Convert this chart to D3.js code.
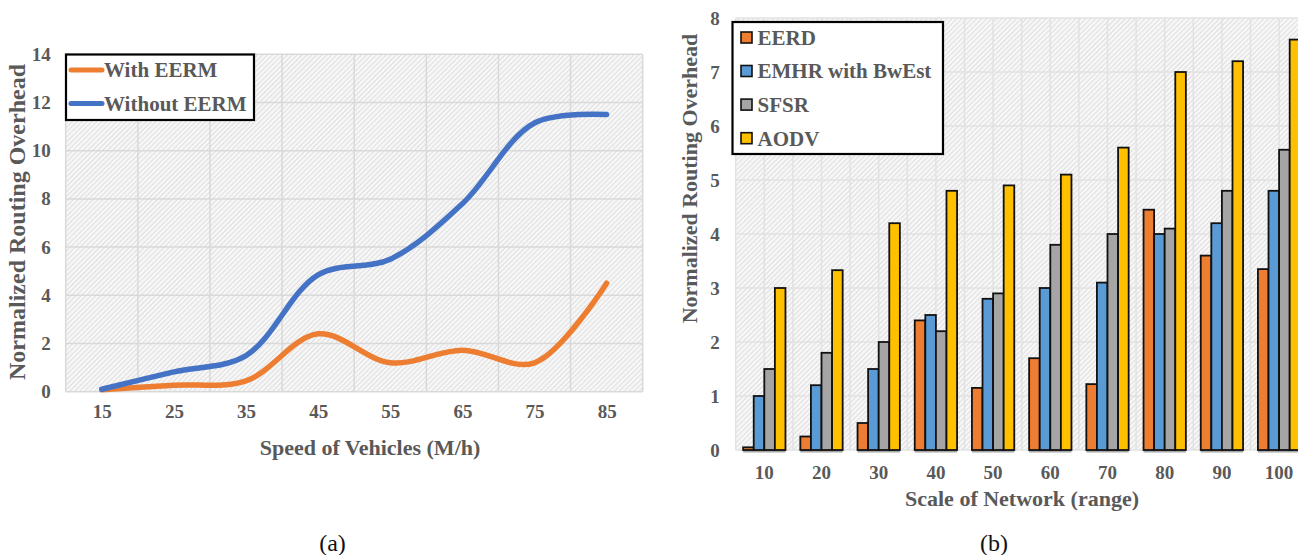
<!DOCTYPE html>
<html>
<head>
<meta charset="utf-8">
<script src="https://cdn.jsdelivr.net/npm/d3@7"></script>
<style>
  html, body { margin: 0; padding: 0; background: #ffffff; }
  svg { display: block; }
  text { font-family: "Liberation Serif", "Times New Roman", serif; }
</style>
</head>
<body>
<svg id="fig" width="1298" height="555"></svg>
<script>
// ---- (a) routing overhead vs. vehicle speed ----
const speeds = ["15", "25", "35", "45", "55", "65", "75", "85"];
const withEERM = [0.08, 0.27, 0.45, 2.4, 1.2, 1.72, 1.2, 4.5];
const withoutEERM = [0.1, 0.82, 1.5, 4.85, 5.5, 7.8, 11.15, 11.5];
const yTicksA = [0, 2, 4, 6, 8, 10, 12, 14];

// ---- (b) routing overhead vs. network scale ----
const scales = ["10", "20", "30", "40", "50", "60", "70", "80", "90", "100"];
const protocols = ["EERD", "EMHR with BwEst", "SFSR", "AODV"];
const eerd = [0.05, 0.25, 0.5, 2.4, 1.15, 1.7, 1.22, 4.45, 3.6, 3.35];
const emhr = [1.0, 1.2, 1.5, 2.5, 2.8, 3.0, 3.1, 4.0, 4.2, 4.8];
const sfsr = [1.5, 1.8, 2.0, 2.2, 2.9, 3.8, 4.0, 4.1, 4.8, 5.56];
const aodv = [3.0, 3.33, 4.2, 4.8, 4.9, 5.1, 5.6, 7.0, 7.2, 7.6];
const yTicksB = [0, 1, 2, 3, 4, 5, 6, 7, 8];

const TEXT = "#595959";
const GRID = "#d9d9d9";
const ORANGE = "#ED7D31";
const LINE_BLUE = "#4472C4";
const BAR_COLORS = ["#ED7D31", "#5B9BD5", "#A5A5A5", "#FFC000"];

const svg = d3.select("#fig");

// downward diagonal hatch used as plot background
const defs = svg.append("defs");
const pat = defs.append("pattern")
  .attr("id", "hatch")
  .attr("patternUnits", "userSpaceOnUse")
  .attr("width", 3.5).attr("height", 3.5)
  .attr("patternTransform", "rotate(45)");
pat.append("rect").attr("width", 3.5).attr("height", 3.5).attr("fill", "#f6f6f6");
pat.append("line").attr("x1", 0).attr("y1", 0).attr("x2", 0).attr("y2", 3.5)
  .attr("stroke", "#d2d2d2").attr("stroke-width", 1.2);

// ================= Chart (a) =================
{
  const L = 65.7, R = 642.7, T = 54.3, B = 391.7;
  const x = d3.scalePoint().domain(speeds).range([L, R]).padding(0.5);
  const y = d3.scaleLinear().domain([0, 14]).range([B, T]);
  const step = x.step();
  const g = svg.append("g");

  g.append("rect").attr("x", L).attr("y", T).attr("width", R - L).attr("height", B - T)
    .attr("fill", "url(#hatch)");

  // horizontal grid
  g.append("g").selectAll("line").data(yTicksA).join("line")
    .attr("x1", L).attr("x2", R)
    .attr("y1", d => y(d)).attr("y2", d => y(d))
    .attr("stroke", GRID).attr("stroke-width", 1.5);
  // vertical grid on category boundaries
  const bounds = d3.range(speeds.length + 1).map(i => L + i * step);
  g.append("g").selectAll("line").data(bounds).join("line")
    .attr("x1", d => d).attr("x2", d => d)
    .attr("y1", T).attr("y2", B)
    .attr("stroke", GRID).attr("stroke-width", 1.5);

  // y axis labels
  const ya = g.append("g").attr("transform", `translate(${L - 15},0)`)
    .call(d3.axisLeft(y).tickValues(yTicksA).tickSize(0).tickPadding(0));
  ya.select(".domain").remove();
  ya.selectAll("text").attr("fill", TEXT).attr("font-size", 19).attr("font-weight", "bold")
    .attr("font-family", "Liberation Serif, serif");

  // x axis labels
  const xa = g.append("g").attr("transform", `translate(0,${B + 13})`)
    .call(d3.axisBottom(x).tickSize(0).tickPadding(0));
  xa.select(".domain").remove();
  xa.selectAll("text").attr("fill", TEXT).attr("font-size", 19).attr("font-weight", "bold")
    .attr("font-family", "Liberation Serif, serif");

  const line = d3.line()
    .x((d, i) => x(speeds[i]))
    .y(d => y(d))
    .curve(d3.curveCatmullRom.alpha(0.5));

  g.append("path").datum(withEERM).attr("d", line)
    .attr("fill", "none").attr("stroke", ORANGE).attr("stroke-width", 5.5)
    .attr("stroke-linecap", "round").attr("stroke-linejoin", "round");
  g.append("path").datum(withoutEERM).attr("d", line)
    .attr("fill", "none").attr("stroke", LINE_BLUE).attr("stroke-width", 5.5)
    .attr("stroke-linecap", "round").attr("stroke-linejoin", "round");

  // legend
  const lg = g.append("g");
  lg.append("rect").attr("x", 66).attr("y", 54.5).attr("width", 188).attr("height", 65.5)
    .attr("fill", "#ffffff").attr("stroke", "#000000").attr("stroke-width", 2.2);
  const items = [["With EERM", ORANGE, 70], ["Without EERM", LINE_BLUE, 103.5]];
  items.forEach(([name, col, cy]) => {
    lg.append("line").attr("x1", 71).attr("x2", 102).attr("y1", cy).attr("y2", cy)
      .attr("stroke", col).attr("stroke-width", 5).attr("stroke-linecap", "round");
    lg.append("text").attr("x", 104).attr("y", cy).attr("dy", "0.35em")
      .attr("fill", TEXT).attr("font-size", 21).attr("font-weight", "bold")
      .text(name);
  });

  // axis titles
  g.append("text").attr("x", 370).attr("y", 447).attr("dy", "0.35em")
    .attr("text-anchor", "middle").attr("fill", TEXT)
    .attr("font-size", 22).attr("font-weight", "bold")
    .text("Speed of Vehicles (M/h)");
  g.append("text").attr("transform", "translate(17,222) rotate(-90)")
    .attr("dy", "0.35em").attr("text-anchor", "middle").attr("fill", TEXT)
    .attr("font-size", 24).attr("font-weight", "bold")
    .text("Normalized Routing Overhead");

  g.append("text").attr("x", 332.5).attr("y", 543).attr("dy", "0.35em")
    .attr("text-anchor", "middle").attr("fill", "#111111").attr("font-size", 24)
    .text("(a)");
}

// ================= Chart (b) =================
{
  const L = 735.7, R = 1307.7, T = 18, B = 450;
  const x0 = d3.scaleBand().domain(scales).range([L, R]).paddingInner(0.26).paddingOuter(0.13);
  const x1 = d3.scaleBand().domain(protocols).range([0, x0.bandwidth()]);
  const y = d3.scaleLinear().domain([0, 8]).range([B, T]);
  const step = x0.step();
  const g = svg.append("g");

  g.append("rect").attr("x", L).attr("y", T).attr("width", R - L).attr("height", B - T)
    .attr("fill", "url(#hatch)");

  g.append("g").selectAll("line").data(yTicksB).join("line")
    .attr("x1", L).attr("x2", R)
    .attr("y1", d => y(d)).attr("y2", d => y(d))
    .attr("stroke", "#e2e2e2").attr("stroke-width", 1.5);
  const vlines = d3.range(scales.length * 2 + 1).map(i => L + i * step / 2);
  g.append("g").selectAll("line").data(vlines).join("line")
    .attr("x1", d => d).attr("x2", d => d)
    .attr("y1", T).attr("y2", B)
    .attr("stroke", "#e2e2e2").attr("stroke-width", 1.5);

  const ya = g.append("g").attr("transform", `translate(${L - 16},0)`)
    .call(d3.axisLeft(y).tickValues(yTicksB).tickSize(0).tickPadding(0));
  ya.select(".domain").remove();
  ya.selectAll("text").attr("fill", TEXT).attr("font-size", 19).attr("font-weight", "bold")
    .attr("font-family", "Liberation Serif, serif");

  const xa = g.append("g").attr("transform", `translate(0,${B + 15})`)
    .call(d3.axisBottom(x0).tickSize(0).tickPadding(0));
  xa.select(".domain").remove();
  xa.selectAll("text").attr("fill", TEXT).attr("font-size", 19).attr("font-weight", "bold")
    .attr("font-family", "Liberation Serif, serif");

  const series = [eerd, emhr, sfsr, aodv];
  const rows = scales.map((s, i) => ({ s, vals: protocols.map((p, k) => ({ p, k, v: series[k][i] })) }));

  const grp = g.append("g").selectAll("g").data(rows).join("g")
    .attr("transform", d => `translate(${x0(d.s)},0)`);

  // axis segment beneath each group
  grp.append("line")
    .attr("x1", 0).attr("x2", x0.bandwidth())
    .attr("y1", B + 1).attr("y2", B + 1)
    .attr("stroke", "#a6a6a6").attr("stroke-width", 3);

  grp.selectAll("rect").data(d => d.vals).join("rect")
    .attr("x", d => x1(d.p))
    .attr("y", d => y(d.v))
    .attr("width", x1.bandwidth())
    .attr("height", d => y(0) - y(d.v))
    .attr("fill", d => BAR_COLORS[d.k])
    .attr("stroke", "#111111").attr("stroke-width", 1.8);

  // legend
  const lg = g.append("g");
  lg.append("rect").attr("x", 732.5).attr("y", 22).attr("width", 210.5).attr("height", 132)
    .attr("fill", "#ffffff").attr("stroke", "#000000").attr("stroke-width", 2.2);
  const ys = [37.5, 71, 104.6, 138.2];
  protocols.forEach((p, k) => {
    lg.append("rect").attr("x", 741).attr("y", ys[k] - 5.5).attr("width", 11).attr("height", 11)
      .attr("fill", BAR_COLORS[k]).attr("stroke", "#111111").attr("stroke-width", 1.6);
    lg.append("text").attr("x", 757.5).attr("y", ys[k]).attr("dy", "0.35em")
      .attr("fill", TEXT).attr("font-size", 21).attr("font-weight", "bold")
      .text(p);
  });

  g.append("text").attr("x", 1022).attr("y", 498).attr("dy", "0.35em")
    .attr("text-anchor", "middle").attr("fill", TEXT)
    .attr("font-size", 22).attr("font-weight", "bold")
    .text("Scale of Network (range)");
  g.append("text").attr("transform", "translate(689,178.5) rotate(-90)")
    .attr("dy", "0.35em").attr("text-anchor", "middle").attr("fill", TEXT)
    .attr("font-size", 22).attr("font-weight", "bold")
    .text("Normalized Routing Overhead");

  g.append("text").attr("x", 994).attr("y", 543).attr("dy", "0.35em")
    .attr("text-anchor", "middle").attr("fill", "#111111").attr("font-size", 24)
    .text("(b)");
}
</script>
</body>
</html>
